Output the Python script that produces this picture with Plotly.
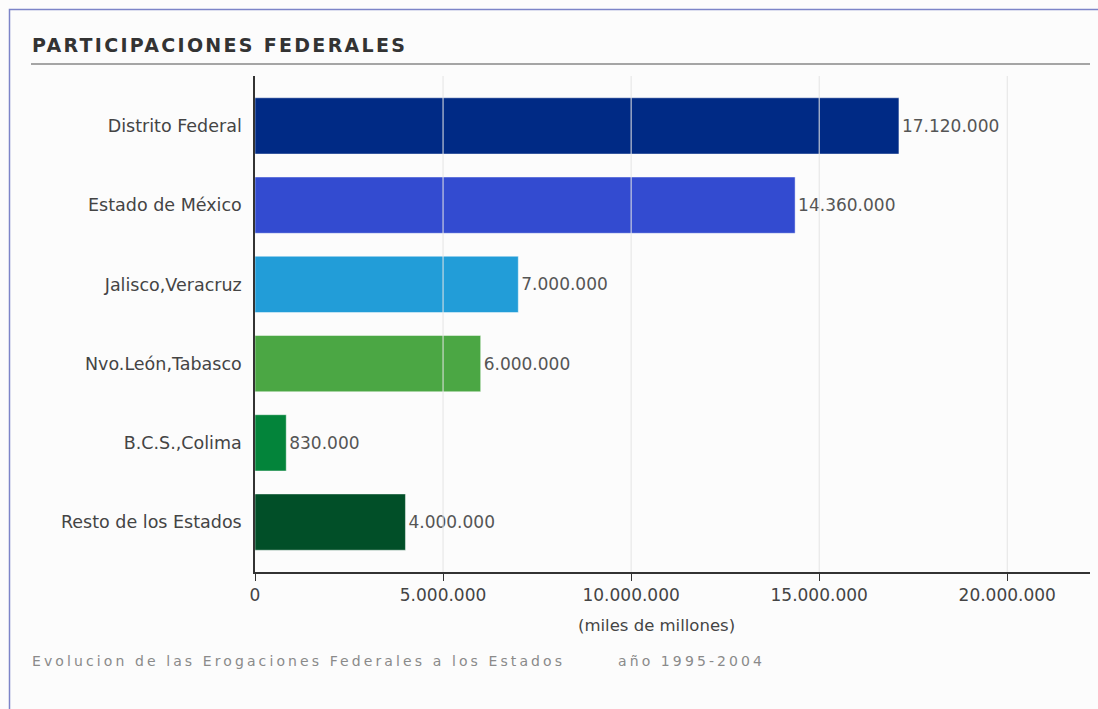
import plotly.graph_objects as go

CATEGORIES = ["Distrito Federal", "Estado de México", "Jalisco,Veracruz",
              "Nvo.León,Tabasco", "B.C.S.,Colima", "Resto de los Estados"]
VALUES = [17120000, 14360000, 7000000, 6000000, 830000, 4000000]
COLORS = ["#002a85", "#334bd0", "#229dd8", "#4ba744", "#03843a", "#014f28"]
TICKS = [0, 5000000, 10000000, 15000000, 20000000]

FONT = "DejaVu Sans"
W, H = 1098, 709
L, R, T, B = 255, 8, 76, 137


# page coords -> paper coords
def px(x):
    return (x - L) / (W - L - R)


def py(y):
    return (H - B - y) / (H - T - B)


fig = go.Figure(go.Bar(
    x=VALUES, y=CATEGORIES, orientation="h",
    marker=dict(color=COLORS, line=dict(color="rgba(255,255,255,0.45)", width=1)),
    width=0.71,
    texttemplate="%{x:,}", textposition="outside", cliponaxis=False,
    textfont=dict(family=FONT, size=17, color="#555555"),
    hoverinfo="x+y",
))

# grid lines sit on top of the bars in the original
for t in TICKS[1:]:
    fig.add_shape(type="line", xref="x", yref="paper", x0=t, x1=t, y0=0, y1=1,
                  line=dict(color="#e4e4e4", width=1), layer="above")

# page frame (left/top edges visible), title and rule
fig.add_shape(type="rect", xref="paper", yref="paper",
              x0=px(9.5), x1=px(1110), y0=py(720), y1=py(9.5),
              line=dict(color="#7c84c8", width=1.5), fillcolor="rgba(0,0,0,0)",
              layer="below")
fig.add_shape(type="line", xref="paper", yref="paper",
              x0=px(31), x1=px(1090), y0=py(64), y1=py(64),
              line=dict(color="#888888", width=1.5))
fig.add_annotation(text="<b>PARTICIPACIONES FEDERALES</b>", xref="paper", yref="paper",
                   x=px(30), y=py(45), xanchor="left", yanchor="middle", showarrow=False,
                   font=dict(family=FONT, size=19, color="#333333"))
fig.add_annotation(text="(miles de millones)", xref="paper", yref="paper",
                   x=px(656), y=py(625), xanchor="center", yanchor="middle", showarrow=False,
                   font=dict(family=FONT, size=16.5, color="#444444"))
fig.add_annotation(text="Evolucion de las Erogaciones Federales a los Estados",
                   xref="paper", yref="paper",
                   x=px(30), y=py(661), xanchor="left", yanchor="middle", showarrow=False,
                   font=dict(family=FONT, size=14, color="#8a8a8a"))
fig.add_annotation(text="año 1995-2004",
                   xref="paper", yref="paper",
                   x=px(616), y=py(661), xanchor="left", yanchor="middle", showarrow=False,
                   font=dict(family=FONT, size=14, color="#8a8a8a"))

fig.update_xaxes(
    range=[0, 22200000], tickvals=TICKS, tickformat=",d",
    showgrid=False, zeroline=False,
    showline=True, linecolor="#333333", linewidth=1.5,
    ticks="outside", ticklen=7, tickcolor="#333333",
    tickfont=dict(family=FONT, size=17, color="#444444"),
)
fig.update_yaxes(
    range=[5.63, -0.63], showgrid=False, zeroline=False,
    showline=True, linecolor="#333333", linewidth=1.5,
    ticks="", ticklabelstandoff=8,
    tickfont=dict(family=FONT, size=17.5, color="#444444"),
)
fig.update_layout(
    width=W, height=H, separators=",.",
    margin=dict(l=L, r=R, t=T, b=B, pad=0),
    paper_bgcolor="#fcfcfc", plot_bgcolor="#fcfcfc",
    showlegend=False,
)

# drop the page's default body margin; widen letter spacing like the original
# text, keeping each annotation's left edge where it was
POST = """
document.body.style.margin = '0';
document.querySelectorAll('.annotation-text').forEach(function (el) {
  var s = el.textContent, ls = 0;
  if (s.indexOf('PARTICIPACIONES') === 0) ls = 2.3;
  else if (s.indexOf('Evolucion') === 0 || s.indexOf('año') === 0) ls = 3.1;
  if (!ls) return;
  var w0 = el.getComputedTextLength();
  el.setAttribute('letter-spacing', ls);
  var w1 = el.getComputedTextLength();
  el.setAttribute('x', parseFloat(el.getAttribute('x') || 0) + (w1 - w0) / 2);
});
"""

fig.write_html("out.html", post_script=POST, config={"displayModeBar": False})
